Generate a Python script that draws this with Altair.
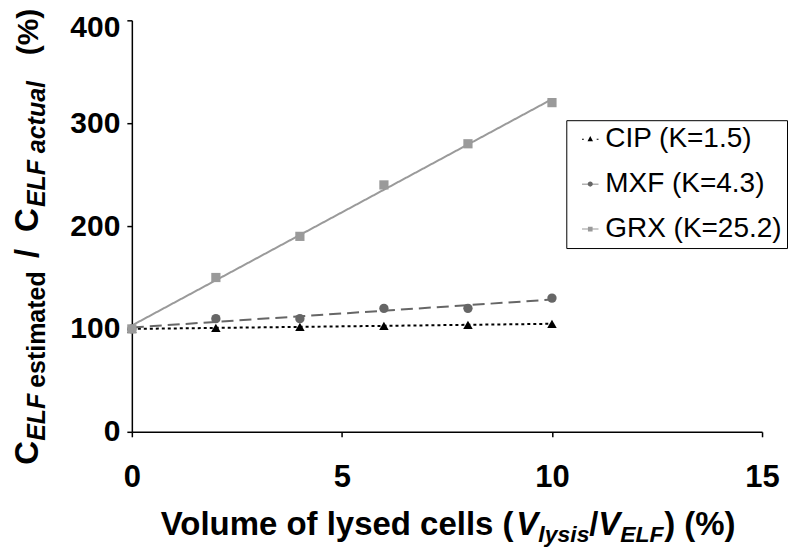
import altair as alt
import pandas as pd

# ---- data ----
x_vals = [0, 2, 4, 6, 8, 10]
cip = [100, 101, 102, 103, 104, 105]
mxf = [100, 110, 110, 120, 120, 130]
grx = [100, 150, 190, 240, 280, 320]
series_names = ["CIP (K=1.5)", "MXF (K=4.3)", "GRX (K=25.2)"]
x_ticks = [0, 5, 10, 15]
y_ticks = [0, 100, 200, 300, 400]

# ---- styles ----
colors = ["#000000", "#666666", "#9a9a9a"]
dashes = [[3, 3], [12, 6], [1, 0]]
shapes = ["triangle-up", "circle", "square"]
sizes = [90, 85, 55]
legend_paths = [
    "M-1.35,-0.08h0.3v0.16h-0.3z M1.05,-0.08h0.3v0.16h-0.3z M0,-0.5L0.45,0.35L-0.45,0.35Z",
    "M-1.35,-0.08H1.35V0.08H-1.35Z M0.42,0A0.42,0.42 0 1 1 -0.42,0A0.42,0.42 0 1 1 0.42,0Z",
    "M-1.35,-0.08H1.35V0.08H-1.35Z M-0.38,-0.38H0.38V0.38H-0.38Z",
]
FONT = "Liberation Sans"

rows = []
for name, vals in zip(series_names, [cip, mxf, grx]):
    for xv, yv in zip(x_vals, vals):
        rows.append({"x": xv, "y": yv, "series": name})
df = pd.DataFrame(rows)

W, H = 631, 412
xs = alt.Scale(domain=[0, 15], nice=False)
ys = alt.Scale(domain=[0, 400], nice=False)

xaxis = alt.Axis(values=x_ticks, title=None, grid=False, labelFont=FONT,
                 labelFontWeight="bold", labelFontSize=31, labelColor="black",
                 tickColor="black", tickSize=5, tickWidth=1.5, domainColor="black",
                 domainWidth=1.5, labelPadding=26, labelFlush=False, labelOverlap=False)
yaxis = alt.Axis(values=y_ticks, title=None, grid=False, labelFont=FONT,
                 labelFontWeight="bold", labelFontSize=30, labelColor="black",
                 tickColor="black", tickSize=5, tickWidth=1.5, domainColor="black",
                 domainWidth=1.5, labelPadding=7, labelOverlap=False,
                 labelOffset={"condition": {"test": "datum.value == 400", "value": 7}, "value": 0})

X = alt.X("x:Q", scale=xs, axis=xaxis)
Y = alt.Y("y:Q", scale=ys, axis=yaxis)

lines = alt.Chart(df).transform_regression(
    "x", "y", groupby=["series"], extent=[0, 10]
).mark_line(strokeWidth=2).encode(
    x=X, y=Y,
    color=alt.Color("series:N", scale=alt.Scale(domain=series_names, range=colors), legend=None),
    strokeDash=alt.StrokeDash("series:N", scale=alt.Scale(domain=series_names, range=dashes), legend=None),
    detail="series:N",
)

points = alt.Chart(df).mark_point(filled=True, opacity=1).encode(
    x=X, y=Y,
    color=alt.Color("series:N", scale=alt.Scale(domain=series_names, range=colors), legend=None),
    shape=alt.Shape("series:N", scale=alt.Scale(domain=series_names, range=shapes), legend=None),
    size=alt.Size("series:N", scale=alt.Scale(domain=series_names, range=sizes), legend=None),
)

leg = dict(title=None, orient="none", legendX=435, legendY=100,
           symbolOpacity=1, symbolSize=150, symbolStrokeWidth=0, symbolOffset=5,
           labelFont=FONT, labelFontSize=28, labelColor="black",
           labelOffset=1, rowPadding=17, padding=5,
           strokeColor="black", fillColor="white", labelLimit=400)

legend_layer = alt.Chart(df).mark_point(filled=True, opacity=0).encode(
    x=X, y=Y,
    color=alt.Color("series:N", scale=alt.Scale(domain=series_names, range=colors),
                    legend=alt.Legend(**leg)),
    shape=alt.Shape("series:N", scale=alt.Scale(domain=series_names, range=legend_paths),
                    legend=alt.Legend(**leg)),
)

one = alt.Data(values=[{"a": 0}])


def txt(text, x, y, size, italic=False, angle=0):
    kw = dict(text=text, font=FONT, fontSize=size, fontWeight="bold", color="black",
              align="left", baseline="alphabetic")
    if italic:
        kw["fontStyle"] = "italic"
    if angle:
        kw["angle"] = angle
    return alt.Chart(one).mark_text(**kw).encode(x=alt.value(x), y=alt.value(y))


# y-axis title pieces (rotated, reading bottom to top)
ytitle = [
    txt("C", -94, 445, 33, angle=270),
    txt("ELF", -87, 421, 25, italic=True, angle=270),
    txt("estimated", -87, 368, 25, angle=270),
    txt("/", -94, 238, 33, angle=270),
    txt("C", -94, 212, 33, angle=270),
    txt("ELF", -87, 187, 25, italic=True, angle=270),
    txt("actual", -87, 133, 25, italic=True, angle=270),
    txt("(%)", -94, 35, 30, angle=270),
]

# x-axis title pieces
xtitle = [
    txt("Volume of lysed cells (", 29, 515, 33),
    txt("V", 385, 515, 33, italic=True),
    txt("lysis", 407, 522, 23, italic=True),
    txt("/", 458, 515, 33),
    txt("V", 467, 515, 33, italic=True),
    txt("ELF", 489, 522, 23, italic=True),
    txt(") (%)", 533, 515, 33),
]

chart = alt.layer(lines, points, legend_layer, *ytitle, *xtitle).resolve_scale(
    color="independent", shape="independent", size="independent", strokeDash="independent"
).properties(
    width=W, height=H,
    autosize=alt.AutoSizeParams(type="none"),
    padding={"left": 124, "top": 12, "right": 30, "bottom": 115},
).configure_view(stroke=None)

chart.save("out.html", embed_options={"renderer": "svg", "actions": False})
